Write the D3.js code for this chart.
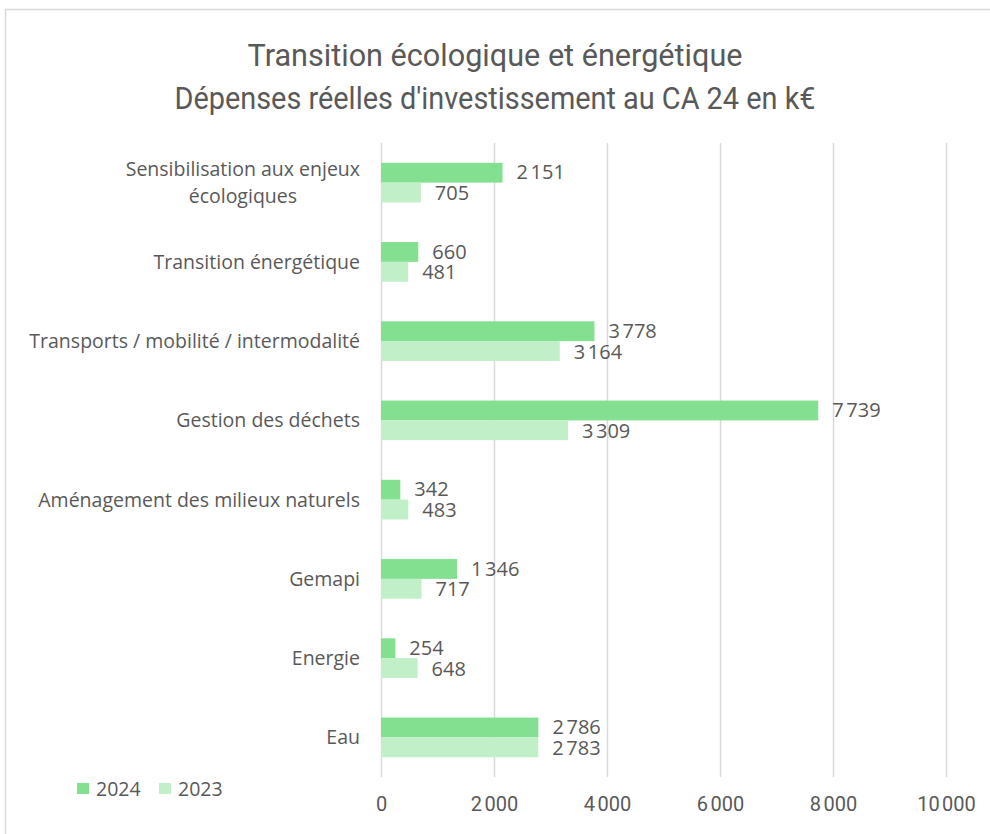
<!DOCTYPE html>
<html>
<head>
<meta charset="utf-8">
<script src="https://cdn.jsdelivr.net/npm/d3@7"></script>
<style>
  body { margin: 0; background: #fff; }
  text { fill: #595959; }
</style>
</head>
<body>
<div id="chart"></div>
<script>
// Chart values
var categories = [
  "Sensibilisation aux enjeux écologiques",
  "Transition énergétique",
  "Transports / mobilité / intermodalité",
  "Gestion des déchets",
  "Aménagement des milieux naturels",
  "Gemapi",
  "Energie",
  "Eau"
];
var seriesNames = ["2024", "2023"];
var values2024 = [2151, 660, 3778, 7739, 342, 1346, 254, 2786];
var values2023 = [705, 481, 3164, 3309, 483, 717, 648, 2783];
var xTicks = [0, 2000, 4000, 6000, 8000, 10000];
var titleLines = [
  "Transition écologique et énergétique",
  "Dépenses réelles d'investissement au CA 24 en k€"
];
var titleWidths = [495, 641];

var colors = { "2024": "#83e090", "2023": "#c1efc8" };

var svgWidth = 990;
var svgHeight = 834;

// plot area
var plot = { left: 381, right: 946, top: 143, bottom: 777 };

var svg = d3.select("#chart")
  .append("svg")
  .attr("width", svgWidth)
  .attr("height", svgHeight)
  .style("font-family", "'Open Sans', 'Noto Sans', sans-serif");

// outer chart border
svg.append("rect")
  .attr("x", 5.5)
  .attr("y", 9.5)
  .attr("width", 1000)
  .attr("height", 900)
  .attr("fill", "none")
  .attr("stroke", "#d9d9d9")
  .attr("stroke-width", 1.5);

// title
svg.append("g")
  .selectAll("text")
  .data(titleLines)
  .enter()
  .append("text")
  .attr("x", 495)
  .attr("y", (d, i) => 66 + i * 43)
  .attr("text-anchor", "middle")
  .attr("textLength", (d, i) => titleWidths[i])
  .attr("lengthAdjust", "spacingAndGlyphs")
  .style("font-family", "'Roboto', sans-serif")
  .style("font-size", "31px")
  .text(d => d);

var x = d3.scaleLinear()
  .domain([0, 10000])
  .range([plot.left, plot.right]);

var y = d3.scaleBand()
  .domain(categories)
  .range([plot.top, plot.bottom])
  .paddingInner(0.5)
  .paddingOuter(0.25);

var ySub = d3.scaleBand()
  .domain(seriesNames)
  .range([0, y.bandwidth()]);

var locale = d3.formatLocale({ decimal: ",", thousands: "\u202f", grouping: [3], currency: ["", " €"] });
var fmt = locale.format(",d");

// gridlines
svg.append("g")
  .attr("transform", `translate(0, ${plot.bottom})`)
  .call(d3.axisBottom(x).tickValues(xTicks).tickSize(-(plot.bottom - plot.top)).tickFormat(""))
  .call(g => g.select(".domain").remove())
  .call(g => g.selectAll("line").attr("stroke", "#d9d9d9").attr("stroke-width", 1.5));

// x axis labels
svg.append("g")
  .attr("transform", `translate(0, ${plot.bottom})`)
  .call(d3.axisBottom(x).tickValues(xTicks).tickSize(0).tickPadding(20).tickFormat(fmt))
  .call(g => g.select(".domain").remove())
  .call(g => g.selectAll("text")
    .attr("fill", "#595959")
    .style("font-family", "'Roboto', sans-serif")
    .style("font-size", "20px"));

// bars
var rows = categories.map((c, i) => ({ cat: c, v: { "2024": values2024[i], "2023": values2023[i] } }));

var groups = svg.append("g")
  .selectAll("g")
  .data(rows)
  .enter()
  .append("g")
  .attr("transform", d => `translate(0, ${y(d.cat)})`);

groups.selectAll("rect")
  .data(d => seriesNames.map(s => ({ s: s, v: d.v[s] })))
  .enter()
  .append("rect")
  .attr("x", x(0))
  .attr("y", d => ySub(d.s))
  .attr("width", d => x(d.v) - x(0))
  .attr("height", ySub.bandwidth())
  .attr("fill", d => colors[d.s]);

// data labels (nudged apart a little, like the original)
groups.selectAll("text.val")
  .data(d => seriesNames.map(s => ({ s: s, v: d.v[s] })))
  .enter()
  .append("text")
  .attr("class", "val")
  .attr("x", d => x(d.v) + 14)
  .attr("y", d => ySub(d.s) + ySub.bandwidth() / 2 + (d.s === "2024" ? -0.5 : 0.5))
  .attr("dy", "0.36em")
  .style("font-size", "20px")
  .text(d => fmt(d.v));

// category labels (wrap the long first one)
var catLabels = {
  "Sensibilisation aux enjeux écologiques": ["Sensibilisation aux enjeux", "écologiques"]
};

svg.append("g")
  .selectAll("g")
  .data(categories)
  .enter()
  .append("g")
  .each(function(c) {
    var lines = catLabels[c] || [c];
    var cy = y(c) + y.bandwidth() / 2;
    var g = d3.select(this);
    if (lines.length === 1) {
      g.append("text")
        .attr("x", 360)
        .attr("y", cy)
        .attr("dy", "0.36em")
        .attr("text-anchor", "end")
        .style("font-size", "19.5px")
        .text(c);
    } else {
      var t = g.append("text")
        .style("font-size", "19.5px")
        .attr("text-anchor", "middle");
      lines.forEach((l, i) => {
        t.append("tspan")
          .attr("x", 0)
          .attr("y", cy + (i - (lines.length - 1) / 2) * 27)
          .attr("dy", "0.36em")
          .text(l);
      });
      var w = t.node().getBBox().width;
      t.attr("transform", `translate(${360 - w / 2}, 0)`);
    }
  });

// legend
var legend = svg.append("g")
  .selectAll("g")
  .data(seriesNames)
  .enter()
  .append("g")
  .attr("transform", (d, i) => `translate(${77 + i * 82}, 783)`);

legend.append("rect")
  .attr("width", 12)
  .attr("height", 11)
  .attr("fill", d => colors[d]);

legend.append("text")
  .attr("x", 19)
  .attr("y", 6)
  .attr("dy", "0.36em")
  .style("font-size", "19.5px")
  .text(d => d);
</script>
</body>
</html>
